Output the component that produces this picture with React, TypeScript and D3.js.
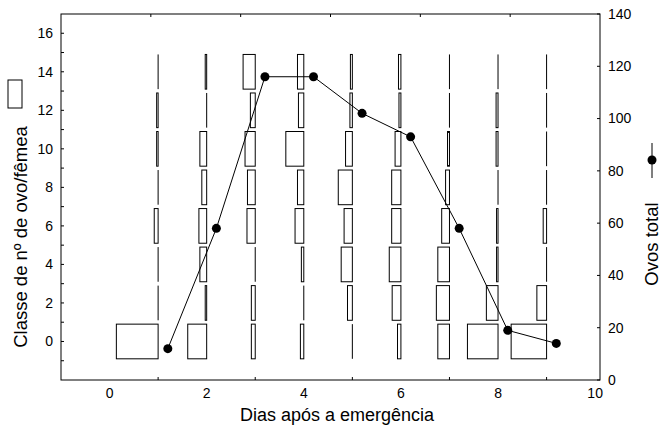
import React from 'react';
import * as d3 from 'd3';

// Days after emergence (groups of class boxes)
const days = [1, 2, 3, 4, 5, 6, 7, 8, 9];
// Egg-number classes per female
const classes = [0, 2, 4, 6, 8, 10, 12, 14];
// Percentage of females in each class (columns follow `classes`), one array per day
const freqDay1 = [86, 0, 0, 8, 0, 3, 3, 0];
const freqDay2 = [39, 3, 14, 16, 10, 14, 0, 3];
const freqDay3 = [8, 8, 0, 17, 16, 21, 10, 25];
const freqDay4 = [7, 0, 5, 18, 13, 37, 11, 13];
const freqDay5 = [0, 10, 23, 17, 29, 14, 5, 4];
const freqDay6 = [7, 18, 24, 19, 19, 12, 4, 5];
const freqDay7 = [24, 27, 24, 16, 8, 4, 0, 0];
const freqDay8 = [63, 24, 3, 3, 0, 4, 4, 0];
const freqDay9 = [73, 20, 0, 7, 0, 0, 0, 0];
const freqByDay = [freqDay1, freqDay2, freqDay3, freqDay4, freqDay5, freqDay6, freqDay7, freqDay8, freqDay9];
// Total eggs (right axis)
const ovosTotal = [12, 58, 116, 116, 102, 93, 58, 19, 14];

const xTickLabels = [0, 2, 4, 6, 8, 10];
const xMinorTicks = [1, 3, 5, 7, 9];
const leftTickLabels = [0, 2, 4, 6, 8, 10, 12, 14, 16];
const rightTickLabels = [0, 20, 40, 60, 80, 100, 120, 140];

const W = 661;
const H = 440;
const L = 61;
const R = 600;
const T = 14;
const B = 380;
const FONT = '"Liberation Sans", Arial, sans-serif';

export default function App() {
  const x = d3.scaleLinear().domain([-1, 10.1]).range([L, R]);
  const yL = d3.scaleLinear().domain([-2, 17]).range([B, T]);
  const yR = d3.scaleLinear().domain([0, 140]).range([B, T]);
  const halfH = 0.9;

  const leftMinor = d3.range(-1, 17, 1);
  const topTicks = d3.range(1, 6).map((k) => L + (k * (R - L)) / 6);

  const lineGen = d3
    .line<number>()
    .x((_, i) => x(days[i] + 0.2))
    .y((d) => yR(d));

  return (
    <svg width={W} height={H} style={{ position: 'absolute', left: 0, top: 0 }} fontFamily={FONT}>
      <rect x={0} y={0} width={W} height={H} fill="#fff" />
      {/* class boxes */}
      {freqByDay.map((freqs, di) =>
        freqs.map((p, ci) => {
          const day = days[di];
          const c = classes[ci];
          const xr = x(day);
          const y0 = yL(c + halfH);
          const y1 = yL(c - halfH);
          if (p === 0) {
            return <line key={`${di}-${ci}`} x1={xr} x2={xr} y1={y0} y2={y1} stroke="#000" strokeWidth={1} />;
          }
          const w = Math.max(1, xr - x(day - p / 100));
          return (
            <rect
              key={`${di}-${ci}`}
              x={xr - w}
              y={y0}
              width={w}
              height={y1 - y0}
              fill="#fff"
              stroke="#000"
              strokeWidth={1}
            />
          );
        })
      )}
      {/* line */}
      <path d={lineGen(ovosTotal) || ''} fill="none" stroke="#000" strokeWidth={1} />
      {ovosTotal.map((v, i) => (
        <circle key={i} cx={x(days[i] + 0.2)} cy={yR(v)} r={4.5} fill="#000" />
      ))}
      {/* frame */}
      <rect x={L} y={T} width={R - L} height={B - T} fill="none" stroke="#000" strokeWidth={1} />
      {/* left ticks */}
      {leftMinor.map((v) => (
        <line key={`lt${v}`} x1={L} x2={L + 3} y1={yL(v)} y2={yL(v)} stroke="#000" />
      ))}
      {leftTickLabels.map((v) => (
        <text key={`ll${v}`} x={53} y={yL(v)} dy="0.35em" textAnchor="end" fontSize={14}>
          {v}
        </text>
      ))}
      {/* right ticks */}
      {rightTickLabels.map((v) => (
        <line key={`rt${v}`} x1={R - 3} x2={R} y1={yR(v)} y2={yR(v)} stroke="#000" />
      ))}
      {rightTickLabels.map((v) => (
        <text key={`rl${v}`} x={608} y={yR(v)} dy="0.35em" textAnchor="start" fontSize={14}>
          {v}
        </text>
      ))}
      {/* bottom ticks */}
      {xMinorTicks.map((v) => (
        <line key={`bt${v}`} x1={x(v)} x2={x(v)} y1={B} y2={B - 3} stroke="#000" />
      ))}
      {xTickLabels.map((v) => (
        <text key={`bl${v}`} x={x(v)} y={398} textAnchor="middle" fontSize={14}>
          {v}
        </text>
      ))}
      {/* top ticks */}
      {topTicks.map((px, i) => (
        <line key={`tt${i}`} x1={px} x2={px} y1={T} y2={T + 3} stroke="#000" />
      ))}
      {/* axis titles */}
      <text x={337} y={421} textAnchor="middle" fontSize={18}>
        Dias após a emergência
      </text>
      <text transform={`translate(27, 237) rotate(-90)`} textAnchor="middle" fontSize={18.5}>
        Classe de nº de ovo/fêmea
      </text>
      <rect x={8} y={80} width={14} height={28} fill="#fff" stroke="#000" />
      <text transform={`translate(658, 244) rotate(-90)`} textAnchor="middle" fontSize={18.5}>
        Ovos total
      </text>
      <line x1={652} x2={652} y1={143} y2={178} stroke="#000" />
      <circle cx={652} cy={160} r={4.5} fill="#000" />
    </svg>
  );
}
